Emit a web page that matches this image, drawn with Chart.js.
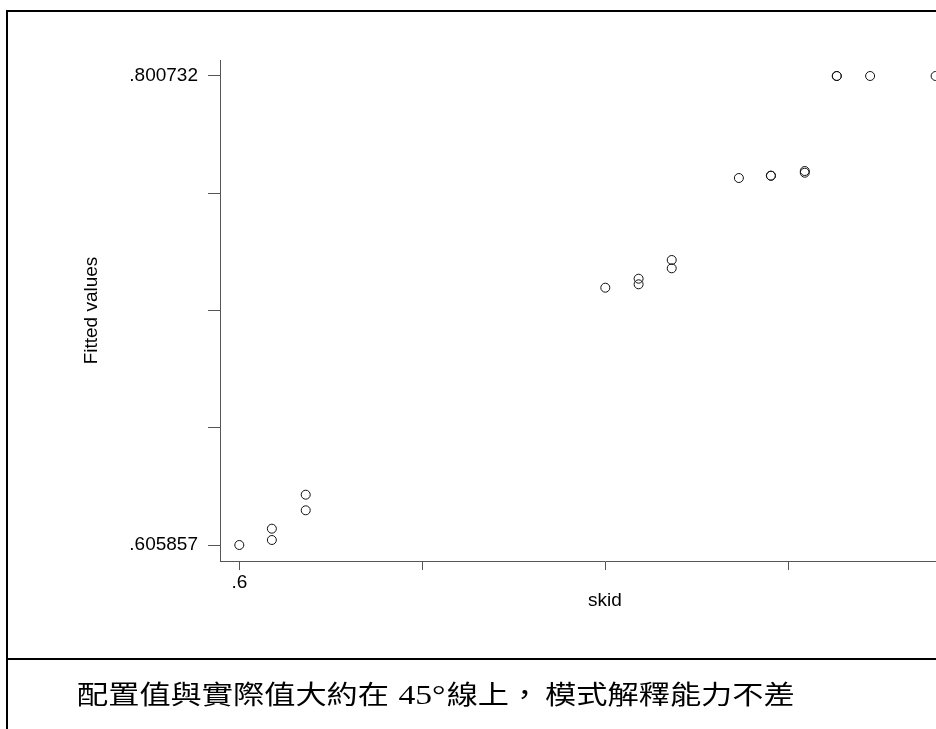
<!DOCTYPE html>
<html>
<head>
<meta charset="utf-8">
<script src="https://cdn.jsdelivr.net/npm/chart.js@4"></script>
<style>
  html, body { margin: 0; padding: 0; background: #fff; }
  body { width: 936px; height: 729px; overflow: hidden; position: relative; }
  .frame { position: absolute; left: 6px; top: 10px; width: 2000px; height: 2000px;
           border-left: 2px solid #000; border-top: 2px solid #000; box-sizing: border-box; }
  .divider { position: absolute; left: 6px; top: 658px; width: 2000px; height: 2px; background: #000; }
  #wrap { position: absolute; left: 0; top: 0; width: 1000px; height: 729px; }
  .caption { position: absolute; left: 77px; top: 678px; white-space: nowrap;
             font-family: "Noto Sans CJK TC", sans-serif; font-size: 26px; line-height: 30px;
             color: #000; transform: scaleX(1.2); transform-origin: 0 0; }
  .caption .num { font-family: "Liberation Serif", "Times New Roman", serif; font-size: 28px;
                  margin-left: 2px; margin-right: 1px; }
  .caption .gap { margin-right: 4px; }
</style>
</head>
<body>
<div class="frame"></div>
<div class="divider"></div>
<div id="wrap"><canvas id="chart"></canvas></div>
<div class="caption">配置值與實際值大約在 <span class="num">45°</span>線上<span class="gap">，</span>模式解釋能力不差</div>
<script>
// skid (x) against fitted values (y)
const skid = [0.6, 0.6178, 0.6178, 0.6363, 0.6363, 0.8, 0.8182, 0.8182, 0.8363, 0.8363,
              0.873, 0.8905, 0.8905, 0.909, 0.909, 0.9265, 0.9265, 0.9447, 0.9805];
const fitted = [0.605857, 0.612630, 0.607935, 0.626757, 0.620275, 0.712766, 0.716506, 0.714179,
                0.724276, 0.720827, 0.758343, 0.759299, 0.759299, 0.761253, 0.760546,
                0.800732, 0.800732, 0.800732, 0.800732];

const xTicks = [0.6, 0.7, 0.8, 0.9, 1.0];
const xTickLabels = ['.6', '', '', '', ''];
const yTicks = [0.605857, 0.654576, 0.703295, 0.752013, 0.800732];
const yTickLabels = ['.605857', '', '', '', '.800732'];

const points = skid.map((x, i) => ({ x: x, y: fitted[i] }));

const axisColor = '#555';
const labelFont = { family: '"Liberation Sans", Arial, sans-serif', size: 19 };

new Chart(document.getElementById('chart'), {
  type: 'scatter',
  data: {
    datasets: [{
      data: points,
      pointStyle: 'circle',
      pointRadius: 4.5,
      pointHoverRadius: 4.5,
      pointBorderWidth: 1,
      borderColor: '#111',
      backgroundColor: 'rgba(0,0,0,0)'
    }]
  },
  options: {
    responsive: true,
    maintainAspectRatio: false,
    animation: false,
    events: [],
    layout: { padding: { left: 0, top: 60, right: 10, bottom: 0 } },
    plugins: { legend: { display: false }, tooltip: { enabled: false } },
    scales: {
      x: {
        type: 'linear',
        min: 0.589454,
        max: 1.010219,
        afterBuildTicks: s => { s.ticks = xTicks.map(v => ({ value: v })); },
        afterFit: s => { s.height = 168; },
        border: { display: true, color: axisColor, width: 1 },
        grid: { display: true, drawOnChartArea: false, drawTicks: true, tickLength: 9, color: axisColor },
        ticks: { color: '#000', font: labelFont, padding: 1, maxRotation: 0, autoSkip: false,
                 callback: (v, i) => xTickLabels[i] },
        title: { display: true, text: 'skid', color: '#000', font: labelFont,
                 padding: { top: 0, bottom: 116.6 } }
      },
      y: {
        type: 'linear',
        min: 0.599209,
        max: 0.807380,
        afterBuildTicks: s => { s.ticks = yTicks.map(v => ({ value: v })); },
        afterFit: s => { s.width = 220; },
        border: { display: true, color: axisColor, width: 1 },
        grid: { display: true, drawOnChartArea: false, drawTicks: true, tickLength: 12, color: axisColor },
        ticks: { color: '#000', font: labelFont, padding: 10, autoSkip: false,
                 callback: (v, i) => yTickLabels[i] },
        title: { display: true, text: 'Fitted values', color: '#000', font: labelFont,
                 padding: { top: 80.6, bottom: 0 } }
      }
    }
  }
});
</script>
</body>
</html>
